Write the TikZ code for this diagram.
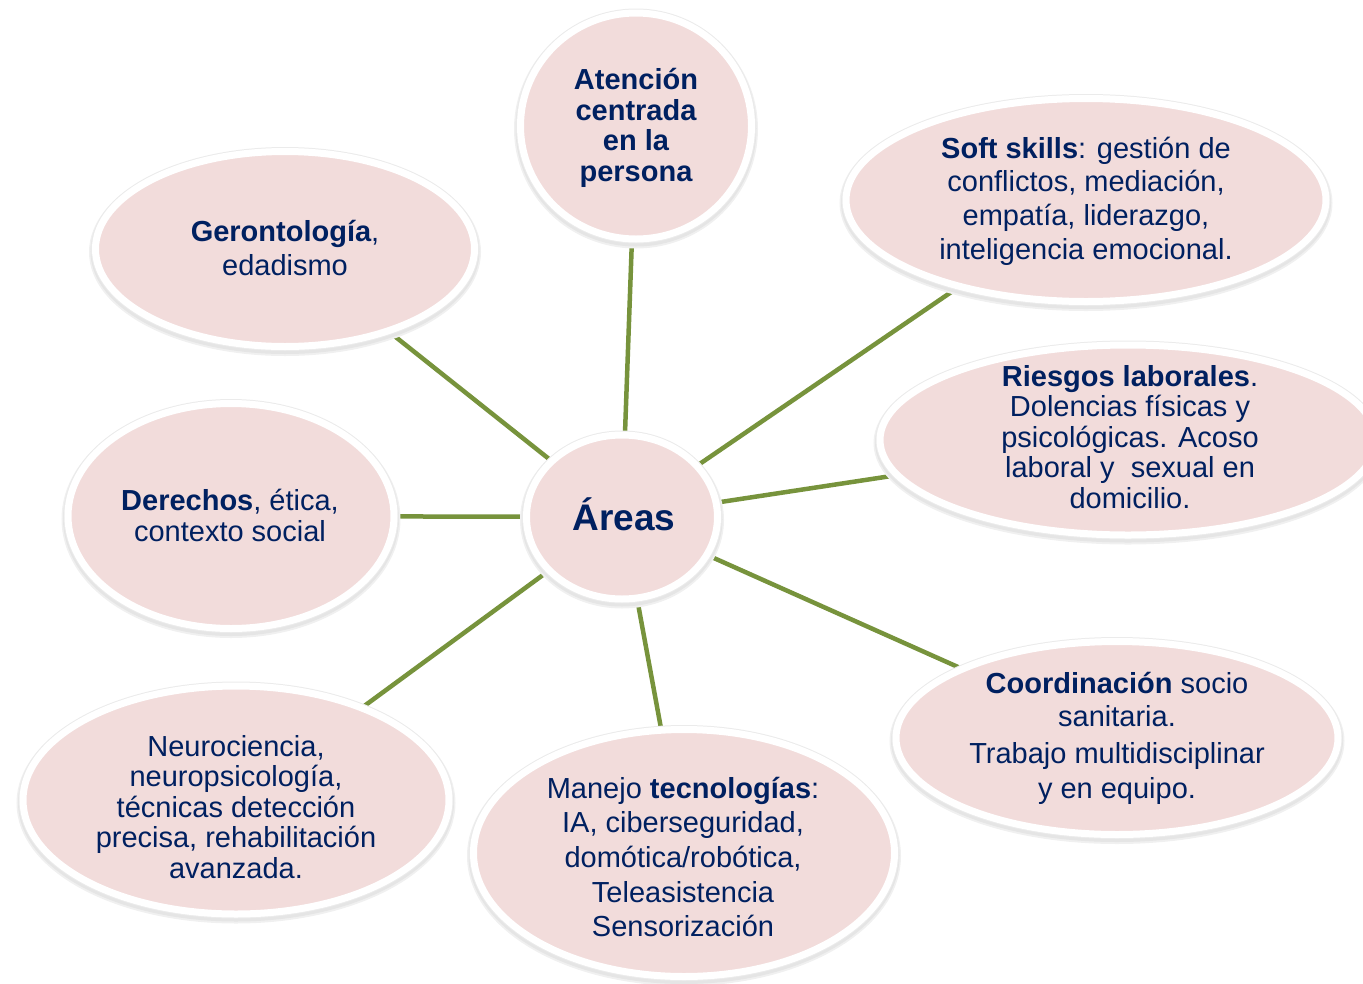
\documentclass[tikz,border=0pt]{standalone}
\usepackage{fontspec}
\setmainfont{Liberation Sans}
\usetikzlibrary{shapes.geometric,backgrounds}
\definecolor{pinkfill}{HTML}{F2DCDB}
\definecolor{navytext}{HTML}{002060}
\definecolor{olivegreen}{HTML}{77933C}
\tikzset{
  bubble/.style={ellipse, fill=pinkfill, draw=white, line width=7pt, inner sep=0pt,
    preaction={draw=black!6, line width=13pt, transform canvas={yshift=-3pt}},
    preaction={draw=black!10, line width=10pt, transform canvas={yshift=-2.5pt}},
    preaction={draw=black!8, line width=9pt}},
  txt/.style={align=center, text=navytext, inner sep=0pt},
  link/.style={draw=olivegreen, line width=4.5pt}
}
\begin{document}
\begin{tikzpicture}[x=1pt,y=-1pt]
\useasboundingbox (0,0) rectangle (1363,983);
\clip (0,0) rectangle (1363,983);
% bubbles
\node[bubble, minimum width=231pt, minimum height=226pt] (aten) at (636,126) {};
\node[bubble, minimum width=480pt, minimum height=203pt] (soft) at (1086,200) {};
\node[bubble, minimum width=379pt, minimum height=195pt] (geron) at (285,249) {};
\node[bubble, minimum width=496pt, minimum height=190pt] (ries) at (1128,440) {};
\node[bubble, minimum width=326pt, minimum height=225pt] (der) at (231,516) {};
\node[bubble, minimum width=191pt, minimum height=164pt] (areas) at (622,517) {};
\node[bubble, minimum width=442pt, minimum height=193pt] (coord) at (1117,738) {};
\node[bubble, minimum width=426pt, minimum height=228pt] (neuro) at (236,800) {};
\node[bubble, minimum width=421pt, minimum height=247pt] (manejo) at (684,853) {};
% texts
\node[txt, font=\fontsize{29}{30.5}\selectfont\bfseries] (atent) at (636,128) {Atención\\centrada\\en la\\persona};
\node[txt, font=\fontsize{29}{33.7}\selectfont] (softt) at (1086,201) {\textbf{Soft skills}: gestión de\\conflictos, mediación,\\empatía, liderazgo,\\inteligencia emocional.};
\node[txt, font=\fontsize{29}{34}\selectfont] (geront) at (285,248) {\textbf{Gerontología},\\edadismo};
\node[txt, font=\fontsize{29}{30.5}\selectfont] (riest) at (1130,437) {\textbf{Riesgos laborales}.\\Dolencias físicas y\\psicológicas. Acoso\\laboral y\ \ sexual en\\domicilio.};
\node[txt, font=\fontsize{29}{31}\selectfont] (dert) at (230,515) {\textbf{Derechos}, ética,\\contexto social};
\node[txt, font=\fontsize{37}{40}\selectfont\bfseries] (areast) at (624,514) {Áreas};
\node[txt, font=\fontsize{29}{33}\selectfont] (coordt) at (1117,738) {\textbf{Coordinación} socio\\sanitaria.\\[4pt]Trabajo multidisciplinar\\[2pt]y en equipo.};
\node[txt, font=\fontsize{29}{30.5}\selectfont] (neurot) at (236,807) {Neurociencia,\\neuropsicología,\\técnicas detección\\precisa, rehabilitación\\avanzada.};
\node[txt, font=\fontsize{29}{34.7}\selectfont] (manejot) at (683,857) {Manejo \textbf{tecnologías}:\\IA, ciberseguridad,\\domótica/robótica,\\Teleasistencia\\Sensorización};
% connectors
\begin{pgfonlayer}{background}
\draw[link] (areas) -- (aten);
\draw[link] (areas) -- (soft);
\draw[link] (areas) -- (geron);
\draw[link] (areas) -- (ries);
\draw[link] (areas) -- (der);
\draw[link] (areas) -- (coord);
\draw[link] (areas) -- (manejo);
\draw[link] (areas) -- (neuro);
\end{pgfonlayer}
\end{tikzpicture}
\end{document}
